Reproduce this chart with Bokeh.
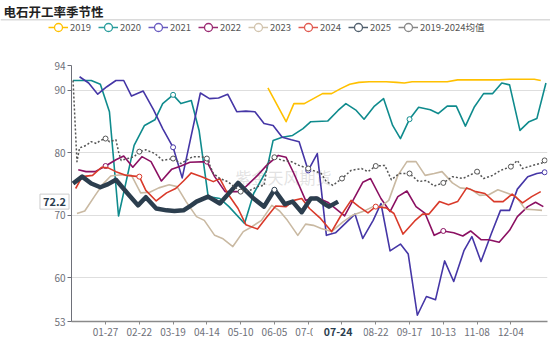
import math
import datetime
from bokeh.plotting import figure
from bokeh.layouts import column
from bokeh.models import Range1d, FixedTicker, Legend, LegendItem, Label, Span
from bokeh.embed import file_html
from bokeh.resources import INLINE

# ---------------- data ----------------
title_text = "电石开工率季节性"
watermark_text = "紫金天风期货"

# category axis: every day of a (leap) year as MM-DD
year0 = datetime.date(2024, 1, 1)
categories = [(year0 + datetime.timedelta(days=i)).strftime("%m-%d") for i in range(366)]
label_every = 26
pointer_day = "07-24"          # axis-pointer date
pointer_value = 72.2           # axis-pointer value

# day-of-year index (0 = 01-01) and values, per year
day_2019 = [151, 165, 171, 179, 186, 193, 200, 207, 214, 221, 229, 242, 250, 256, 262, 276, 289, 297, 316, 329, 337, 349, 356, 361]
val_2019 = [90.4, 85.0, 87.9, 87.9, 88.7, 89.5, 89.5, 90.3, 91.0, 91.3, 91.4, 91.4, 91.3, 91.2, 91.4, 91.4, 91.4, 91.7, 91.7, 91.7, 91.8, 91.8, 91.8, 91.6]

day_2020 = [1, 15, 22, 29, 36, 48, 56, 64, 70, 78, 84, 92, 98, 105, 114, 121, 133, 140, 150, 155, 162, 170, 178, 184, 197, 205, 211, 219, 225, 233, 240, 247, 253, 260, 267, 276, 282, 289, 296, 303, 310, 317, 324, 331, 337, 345, 352, 358, 365]
val_2020 = [91.6, 91.6, 91.0, 86.6, 69.9, 81.2, 84.4, 85.3, 87.9, 89.3, 87.9, 88.4, 83.6, 73.0, 72.7, 71.4, 68.7, 73.5, 77.2, 82.0, 82.5, 82.8, 83.9, 85.0, 85.1, 86.8, 87.9, 86.8, 85.4, 87.5, 88.7, 84.4, 82.3, 85.4, 87.3, 86.9, 86.3, 87.5, 87.5, 84.3, 87.4, 89.5, 89.5, 91.2, 90.9, 83.6, 85.0, 85.5, 91.2]

day_2021 = [6, 13, 20, 27, 34, 40, 46, 55, 63, 70, 78, 85, 99, 106, 113, 120, 127, 134, 141, 148, 155, 162, 169, 175, 182, 189, 196, 203, 209, 218, 224, 232, 238, 245, 253, 259, 266, 273, 280, 287, 294, 302, 308, 315, 323, 330, 337, 343, 351, 358, 364]
val_2021 = [92.2, 91.2, 89.4, 90.6, 91.6, 91.6, 89.1, 89.9, 86.9, 83.9, 80.9, 76.0, 89.6, 88.7, 88.8, 89.4, 86.6, 86.7, 86.6, 84.7, 84.4, 82.5, 82.1, 81.8, 77.2, 79.9, 66.8, 67.2, 68.4, 70.2, 66.3, 69.2, 71.9, 64.3, 65.4, 63.8, 54.0, 57.0, 56.5, 62.7, 59.4, 64.4, 66.6, 62.6, 67.1, 70.8, 70.8, 74.2, 76.2, 76.7, 76.9]

day_2022 = [5, 11, 18, 26, 34, 40, 47, 54, 61, 69, 77, 84, 91, 104, 110, 118, 128, 134, 143, 150, 159, 165, 171, 180, 188, 197, 210, 224, 230, 238, 245, 251, 258, 265, 272, 279, 286, 294, 301, 307, 315, 321, 329, 337, 343, 351, 357, 363]
val_2022 = [77.3, 77.0, 77.0, 77.9, 78.9, 79.5, 77.7, 79.4, 78.6, 75.5, 77.4, 77.9, 78.5, 78.6, 76.2, 73.8, 73.8, 74.6, 76.4, 78.0, 79.6, 79.3, 76.7, 72.4, 72.9, 72.1, 69.9, 75.3, 75.9, 72.7, 70.6, 73.0, 73.9, 71.4, 70.3, 66.8, 67.5, 67.2, 66.7, 67.5, 66.1, 66.1, 65.7, 67.6, 69.8, 71.4, 72.1, 71.4]

day_2023 = [4, 10, 18, 24, 30, 38, 46, 53, 60, 67, 75, 81, 88, 96, 102, 110, 116, 124, 132, 138, 146, 154, 160, 166, 174, 180, 186, 192, 200, 209, 216, 224, 232, 238, 244, 251, 258, 265, 272, 279, 285, 293, 299, 307, 314, 321, 328, 336, 342, 349, 356, 362]
val_2023 = [70.3, 70.7, 73.2, 75.0, 76.3, 76.5, 76.4, 73.6, 73.7, 74.4, 74.9, 74.6, 72.2, 69.8, 69.2, 66.8, 66.3, 65.0, 67.4, 68.1, 69.2, 71.6, 70.7, 69.2, 66.8, 68.6, 68.4, 67.9, 67.4, 69.0, 70.0, 70.6, 71.4, 71.4, 72.4, 76.4, 78.6, 78.6, 76.4, 76.7, 77.0, 75.2, 74.4, 74.2, 73.2, 73.3, 74.1, 73.5, 73.0, 71.0, 70.9, 70.8]

day_2024 = [3, 8, 16, 23, 28, 34, 42, 52, 57, 65, 73, 80, 86, 92, 100, 109, 114, 120, 128, 134, 143, 150, 157, 165, 171, 177, 183, 191, 200, 207, 215, 221, 228, 234, 242, 248, 255, 264, 270, 275, 283, 290, 297, 304, 311, 318, 325, 332, 339, 347, 354, 361]
val_2024 = [74.3, 76.2, 76.4, 77.7, 77.6, 77.0, 76.4, 76.2, 74.0, 72.3, 73.6, 74.3, 75.5, 76.8, 76.2, 75.4, 75.9, 73.5, 71.1, 68.5, 67.8, 69.7, 71.5, 71.4, 72.4, 72.7, 71.1, 69.6, 67.4, 69.9, 72.4, 71.4, 70.4, 71.4, 71.2, 70.3, 67.0, 69.1, 70.2, 70.2, 72.2, 71.7, 72.2, 74.4, 73.8, 73.5, 72.2, 72.2, 73.4, 72.0, 73.0, 73.8]

day_2025 = [1, 8, 15, 22, 28, 34, 43, 51, 57, 65, 73, 79, 86, 92, 96, 105, 114, 128, 140, 148, 156, 164, 170, 177, 184, 189, 194, 198, 205]
val_2025 = [75.1, 76.2, 75.1, 74.5, 75.0, 75.7, 73.5, 71.6, 72.9, 71.1, 70.8, 70.7, 70.8, 71.6, 72.2, 73.0, 71.9, 75.2, 72.7, 71.4, 74.1, 71.8, 72.2, 70.5, 72.7, 72.7, 71.9, 71.4, 72.2]

day_avg = [1, 4, 6, 11, 15, 19, 22, 26, 29, 34, 36, 38, 43, 48, 52, 57, 64, 70, 78, 84, 88, 93, 100, 104, 109, 114, 120, 125, 130, 137, 143, 148, 151, 156, 162, 169, 175, 182, 192, 196, 201, 208, 215, 223, 228, 234, 241, 246, 252, 260, 267, 273, 279, 286, 293, 301, 306, 312, 317, 324, 330, 338, 343, 347, 355, 362, 364]
val_avg = [91.6, 78.6, 80.8, 81.2, 81.8, 81.5, 82.0, 82.3, 81.8, 82.1, 80.2, 78.8, 79.1, 79.4, 80.2, 80.5, 79.9, 78.8, 79.1, 78.3, 78.8, 79.4, 79.4, 79.1, 76.7, 75.9, 75.4, 74.6, 73.8, 74.0, 74.6, 74.8, 78.6, 79.3, 78.8, 78.6, 78.0, 77.5, 76.7, 75.4, 74.8, 75.9, 77.2, 77.5, 77.0, 77.9, 78.0, 75.7, 76.7, 76.7, 75.4, 75.6, 74.7, 75.2, 76.2, 75.9, 76.4, 77.0, 75.9, 76.4, 77.2, 77.8, 78.8, 77.5, 78.0, 78.4, 78.8]

y_ticks = [53, 60, 70, 80, 90, 94]

# ---------------- styles ----------------
series = [
    ("2019", day_2019, val_2019, "#FFC000", 1.6, "solid"),
    ("2020", day_2020, val_2020, "#0F8B8D", 1.6, "solid"),
    ("2021", day_2021, val_2021, "#4536A6", 1.6, "solid"),
    ("2022", day_2022, val_2022, "#8B1062", 1.6, "solid"),
    ("2023", day_2023, val_2023, "#C9B9A2", 1.6, "solid"),
    ("2024", day_2024, val_2024, "#D93A2A", 1.6, "solid"),
    ("2025", day_2025, val_2025, "#2C3E4E", 4.5, "solid"),
    ("2019-2024均值", day_avg, val_avg, "#555555", 1.5, "2 2"),
]
legend_colors = ["#FFC000", "#2A9D9D", "#6A5CC0", "#9A2A72", "#D2C4AE", "#E05A50", "#52606E", "#888888"]

FONT = "Noto Sans CJK SC"
AXIS_GREY = "#6E7079"
W, H_HEAD, H_TOTAL = 550, 38, 339

# ---------------- header (title, separator, legend) ----------------
head = figure(width=W, height=H_HEAD, output_backend="svg", toolbar_location=None,
              x_range=Range1d(0, W), y_range=Range1d(H_HEAD, 0),
              x_axis_type=None, y_axis_type=None, title=None,
              min_border=0, min_border_left=0, min_border_right=0, min_border_top=0, min_border_bottom=0)
head.frame_align = False
head.outline_line_color = None
head.grid.visible = False
head.add_layout(Label(x=3, y=1.5, text=title_text, text_font=FONT, text_font_size="12.5px",
                      text_font_style="bold", text_color="#222222",
                      text_baseline="top", text_align="left"))
head.add_layout(Span(location=19.2, dimension="width", line_color="#DADADA", line_width=1.5))

# ---------------- main chart ----------------
p = figure(width=W, height=H_TOTAL - H_HEAD, output_backend="svg", toolbar_location=None,
           x_range=Range1d(-0.2, 366.2), y_range=Range1d(y_ticks[0], y_ticks[-1]),
           min_border_left=70, min_border_right=3, min_border_top=65 - H_HEAD, min_border_bottom=18,
           title=None)
p.frame_align = False
p.outline_line_color = None
p.background_fill_color = "white"
p.border_fill_color = "white"

tick_idx = list(range(label_every, 340, label_every))
p.xaxis.ticker = FixedTicker(ticks=tick_idx)
p.xaxis.major_label_overrides = {i: categories[i] for i in tick_idx}
p.xaxis.axis_line_color = "#8A8A8A"
p.xaxis.axis_line_width = 1.5
p.xaxis.major_tick_line_color = "#8A8A8A"
p.xaxis.major_tick_out = 3
p.xaxis.major_tick_in = 0
p.xaxis.minor_tick_out = 0
p.xaxis.minor_tick_in = 0
p.xaxis.major_label_standoff = 3
p.xaxis.major_label_text_font = FONT
p.xaxis.major_label_text_font_size = "10px"
p.xaxis.major_label_text_color = AXIS_GREY

p.yaxis.ticker = FixedTicker(ticks=y_ticks)
p.yaxis.axis_line_color = AXIS_GREY
p.yaxis.major_tick_line_color = AXIS_GREY
p.yaxis.major_tick_out = 4
p.yaxis.major_tick_in = 0
p.yaxis.minor_tick_out = 0
p.yaxis.minor_tick_in = 0
p.yaxis.major_label_standoff = 2
p.yaxis.major_label_text_font = FONT
p.yaxis.major_label_text_font_size = "10px"
p.yaxis.major_label_text_color = AXIS_GREY

p.xgrid.visible = False
p.ygrid.grid_line_color = "#DEDEDE"
p.ygrid.grid_line_width = 1.2

p.add_layout(Label(x=212, y=145, x_units="screen", y_units="screen", text=watermark_text,
                   text_font=FONT, text_font_size="16px", text_color="#CFCFCF", text_alpha=0.6,
                   text_align="center", text_baseline="middle", level="underlay"))

items = []
for (name, d, v, color, w, dash), lc in zip(series, legend_colors):
    p.line(x=d, y=v, line_color=color, line_width=w, line_dash=dash, line_join="round")
    mk = [(a, b) for a, b in zip(d, v) if a % label_every == 0]
    if mk:
        p.scatter(x=[a for a, _ in mk], y=[b for _, b in mk], marker="circle", size=5,
                  fill_color="white", line_color=color, line_width=1)
    lr = head.line(x=[math.nan], y=[math.nan], line_color=lc, line_width=1.5)
    sr = head.scatter(x=[math.nan], y=[math.nan], marker="circle", size=8, fill_color="white",
                      line_color=lc, line_width=1.3)
    items.append(LegendItem(label=name, renderers=[lr, sr]))

legend = Legend(items=items, orientation="horizontal", location=(48, 1.3),
                glyph_width=20, glyph_height=20, label_standoff=2, spacing=4, label_width=24,
                padding=0, margin=0, border_line_color=None, background_fill_alpha=0,
                label_text_font=FONT, label_text_font_size="9.5px", label_text_color="#555555")
head.add_layout(legend)

# axis-pointer labels (side panels so they are not clipped to the frame)
p.add_layout(Label(x=-17, y=pointer_value, x_units="screen", y_units="data",
                   text=f"{pointer_value:.1f}", text_font=FONT, text_font_size="11px",
                   text_font_style="bold", text_color="#2C3E50", text_align="center",
                   text_baseline="middle", background_fill_color="white",
                   border_line_color="#CCCCCC", border_line_width=1, padding=3), "above")
p.add_layout(Label(x=categories.index(pointer_day), y=-10.5, x_units="data", y_units="screen",
                   text=pointer_day, text_font=FONT, text_font_size="10.5px",
                   text_font_style="bold", text_color="#2C3E50", text_align="center",
                   text_baseline="middle", background_fill_color="white", padding=(11, 2)), "left")

layout = column(head, p, spacing=0)
open("out.html", "w").write(file_html(layout, INLINE))
